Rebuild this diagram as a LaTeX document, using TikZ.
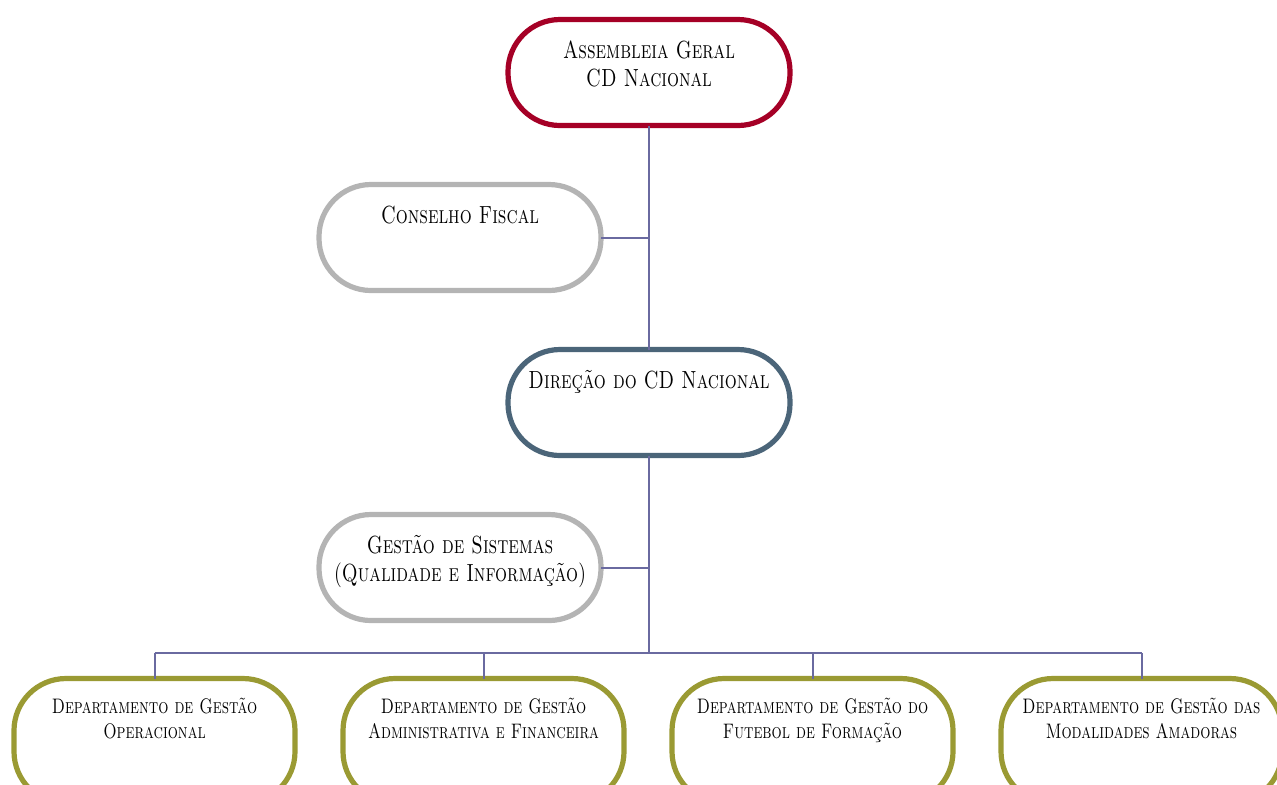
\documentclass[tikz,border=0pt]{standalone}
\usepackage{fontspec}
\newfontfamily\orgfont{lmromancaps10-regular}[Extension=.otf,FakeStretch=0.76]
\usetikzlibrary{positioning}
\definecolor{agred}{HTML}{A50026}
\definecolor{softgray}{HTML}{B4B4B4}
\definecolor{dirblue}{HTML}{4B6579}
\definecolor{deptolive}{HTML}{9A9A33}
\definecolor{linkpurple}{HTML}{6A6AA0}
\newcommand{\toptxt}[1]{\parbox[c][53pt][t]{141pt}{\centering\orgfont
  \fontsize{12.4}{14}\selectfont\rule{0pt}{19.5pt}#1}}
\newcommand{\depttxt}[1]{\parbox[c][62.5pt][t]{140.5pt}{\centering\orgfont
  \fontsize{10.5}{12.5}\selectfont\rule{0pt}{17.25pt}#1}}

\begin{document}
\begin{tikzpicture}[
  x=0.5pt, y=-0.5pt,
  pill/.style={draw, line width=2.6pt, rounded corners=26pt, fill=white,
               inner sep=0pt, outer sep=0pt},
  topbox/.style={pill, draw=agred},
  sidebox/.style={pill, draw=softgray},
  dirbox/.style={pill, draw=dirblue},
  deptbox/.style={pill, draw=deptolive},
  link/.style={draw=linkpurple, line width=1pt},
]
\clip (0,0) rectangle (1277,784);

\node[topbox] (assembleia) at (649,72.5) {\toptxt{Assembleia Geral\\CD Nacional}};
\node[sidebox] (fiscal) at (460,237.5) {\toptxt{Conselho Fiscal}};
\node[dirbox] (direcao) at (649,402.5) {\toptxt{Direção do CD Nacional}};
\node[sidebox] (sistemas) at (460,567.5)
  {\toptxt{Gestão de Sistemas\\(Qualidade e Informação)}};

\node[deptbox] (operacional) at (154.5,741) {\depttxt{Departamento de Gestão\\Operacional}};
\node[deptbox, right=24pt of operacional] (administrativa)
  {\depttxt{Departamento de Gestão\\Administrativa e Financeira}};
\node[deptbox, right=24pt of administrativa] (formacao)
  {\depttxt{Departamento de Gestão do\\Futebol de Formação}};
\node[deptbox, right=24pt of formacao] (amadoras)
  {\depttxt{Departamento de Gestão das\\Modalidades Amadoras}};

\coordinate (bus) at (649,653);

% spine and side branches
\draw[link] (assembleia) -- (direcao);
\draw[link] (fiscal) -- (fiscal -| assembleia);
\draw[link] (direcao) -- (bus);
\draw[link] (sistemas) -- (sistemas -| direcao);

% departments
\draw[link] (operacional |- bus) -- (amadoras |- bus);
\foreach \d in {operacional,administrativa,formacao,amadoras}
  \draw[link] (\d |- bus) -- (\d);
\end{tikzpicture}
\end{document}
